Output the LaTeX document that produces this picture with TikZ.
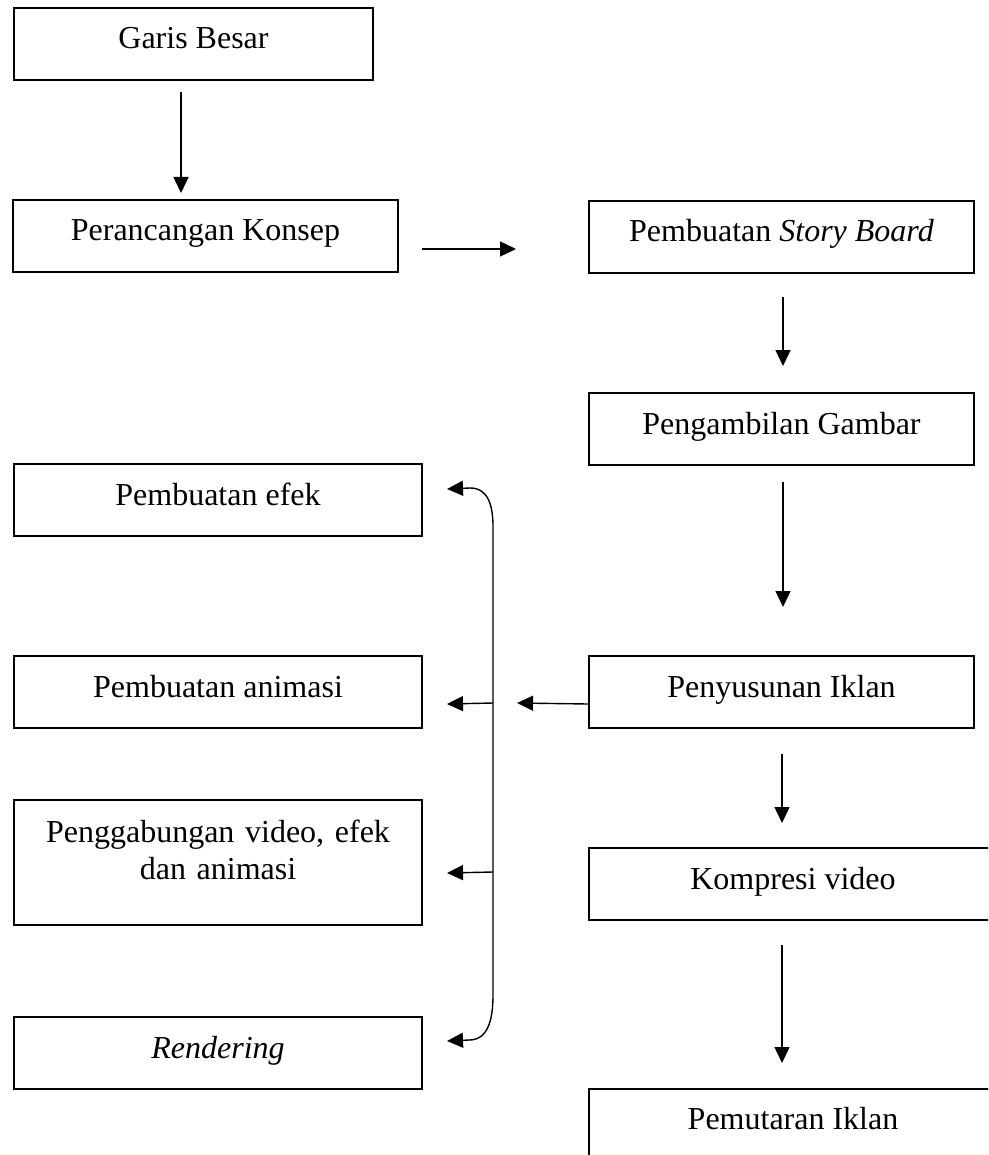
\documentclass[tikz,border=0pt]{standalone}
\usepackage{fontspec}
\setmainfont{Liberation Serif}
\usetikzlibrary{arrows.meta,calc}
\frenchspacing
\begin{document}
\begin{tikzpicture}[x=1pt,y=-1pt,
  flowbox/.style={draw, line width=2pt, rectangle, anchor=north west,
    inner xsep=0pt, inner ysep=0pt, minimum height=72pt,
    text height=41pt, text depth=31pt, font=\fontsize{32}{37}\selectfont},
  conn/.style={line width=1.4pt, -{Triangle[length=16pt,width=15pt]}},
  bothconn/.style={line width=1.4pt, {Triangle[length=16pt,width=15pt]}-{Triangle[length=16pt,width=15pt]}},
]
\useasboundingbox (0,0) rectangle (988,1155);
\begin{scope}
\clip (0,0) rectangle (988,1155);
% left column
\node[flowbox, minimum width=359pt] (garis) at (13,7) {Garis Besar};
\node[flowbox, minimum width=385pt] (konsep) at (12,199) {Perancangan Konsep};
\node[flowbox, minimum width=408pt] (efek) at (13,463) {Pembuatan efek};
\node[flowbox, minimum width=408pt] (anim) at (13,655) {Pembuatan animasi};
\node[flowbox, minimum width=408pt, minimum height=125pt, text height=42pt,
      text depth=83pt, text width=400pt, align=center] (gab) at (13,799)
      {Penggabungan video, efek\\dan animasi};
\node[flowbox, minimum width=408pt] (rend) at (13,1016) {\textit{Rendering}};
% right column
\node[flowbox, minimum width=385pt] (sb) at (588,200) {Pembuatan \textit{Story Board}};
\node[flowbox, minimum width=385pt] (pg) at (588,392) {Pengambilan Gambar};
\node[flowbox, minimum width=385pt] (pen) at (588,655) {Penyusunan Iklan};
\node[flowbox, minimum width=408pt] (komp) at (588,847) {Kompresi video};
\node[flowbox, minimum width=408pt, minimum height=110pt, text height=40pt,
      text depth=70pt] (putar) at (588,1088) {Pemutaran Iklan};

% bus coordinates
\coordinate (busTop) at (493,527);
\coordinate (busBot) at (493,995);
\coordinate (j1) at (493,703);
\coordinate (j2) at (493,872);

% connectors
\draw[conn] ([xshift=-12.5pt,yshift=-11pt]garis.south) -- ([xshift=-24.5pt,yshift=6pt]konsep.north);
\draw[conn] ([xshift=23pt,yshift=-13pt]konsep.east) -- ([xshift=-72pt,yshift=-12pt]sb.west);
\draw[conn] ([xshift=1.5pt,yshift=-23pt]sb.south) -- ([xshift=1.5pt,yshift=26pt]pg.north);
\draw[conn] ([xshift=1.5pt,yshift=-16pt]pg.south) -- ([xshift=1.5pt,yshift=48pt]pen.north);
\draw[conn] ([xshift=0.5pt,yshift=-25pt]pen.south) -- ([xshift=-11pt,yshift=24pt]komp.north);
\draw[conn] ([xshift=-11pt,yshift=-24pt]komp.south) -- ([xshift=-11pt,yshift=25pt]putar.north);
\draw[conn] ([yshift=-12pt]pen.west) -- ([xshift=24pt]j1);
\draw[bothconn] ([xshift=24pt,yshift=11pt]efek.east) -- (470,488)
   .. controls (488,488) and (493,505) .. (busTop) -- (busBot)
   .. controls (493,1022) and (487,1040) .. (469,1040)
   -- ([xshift=24pt,yshift=12pt]rend.east);
\draw[conn] (j1) -- ([xshift=24pt,yshift=-12pt]anim.east);
\draw[conn] (j2) -- ([xshift=24pt,yshift=-10.5pt]gab.east);
\end{scope}
\end{tikzpicture}
\end{document}
